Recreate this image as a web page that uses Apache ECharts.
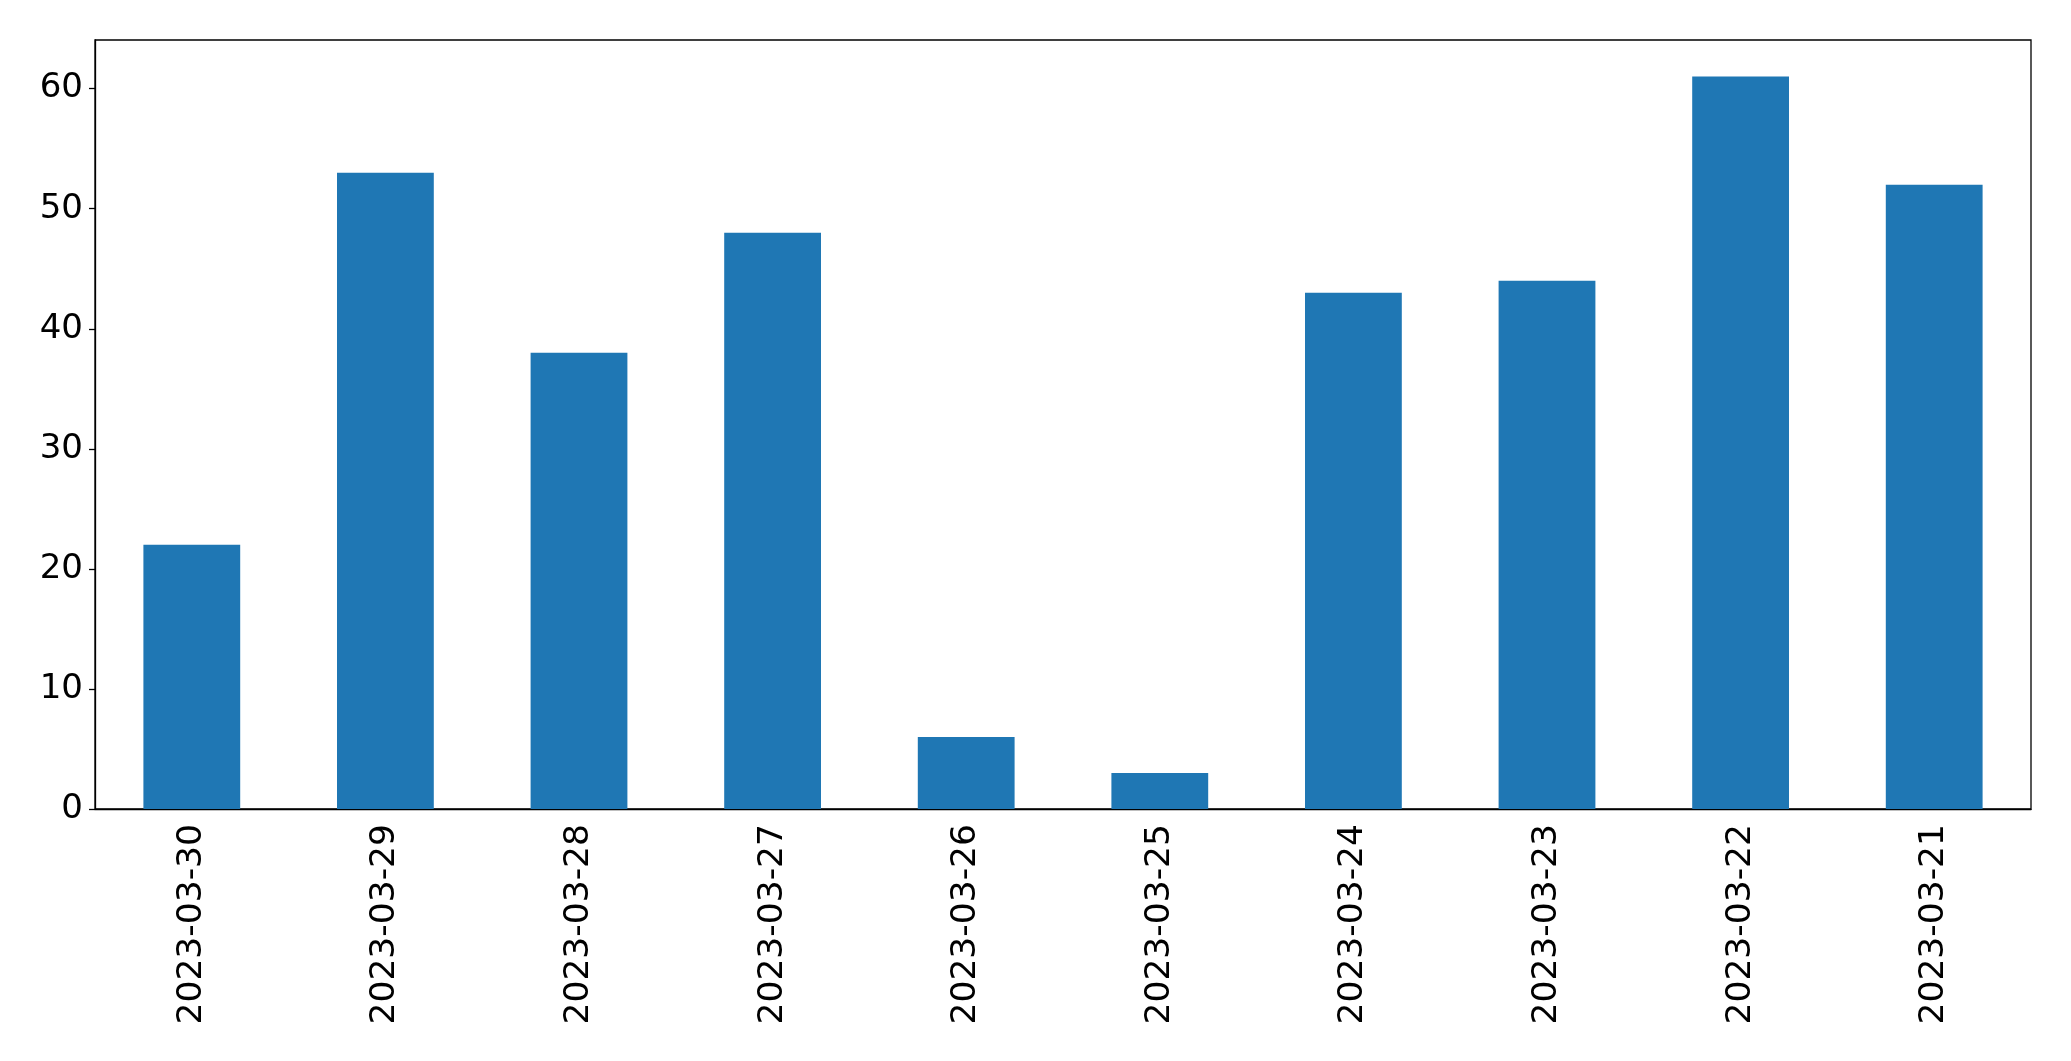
<!DOCTYPE html>
<html>
<head>
<meta charset="utf-8">
<script src="https://cdn.jsdelivr.net/npm/echarts@6/dist/echarts.min.js"></script>
<style>
    html, body { margin: 0; padding: 0; background: #fff; }
    #main { width: 2071px; height: 1061px; }
</style>
</head>
<body>
<div id="main"></div>
<script>
// dates as they appear on the x axis (newest first)
var dates = ['2023-03-30', '2023-03-29', '2023-03-28', '2023-03-27', '2023-03-26',
    '2023-03-25', '2023-03-24', '2023-03-23', '2023-03-22', '2023-03-21'];
var counts = [22, 53, 38, 48, 6, 3, 43, 44, 61, 52];
var yTicks = [0, 10, 20, 30, 40, 50, 60];

var chart = echarts.init(document.getElementById('main'));
var option = {
    animation: false,
    backgroundColor: '#fff',
    textStyle: {
        fontFamily: 'DejaVu Sans'
    },
    grid: {
        left: 95,
        right: 40,
        top: 40,
        bottom: 252,
        containLabel: false,
        show: true,
        borderColor: '#000',
        borderWidth: 1.3
    },
    xAxis: {
        type: 'category',
        data: dates,
        axisLine: {
            lineStyle: { color: '#000', width: 1.3 }
        },
        axisTick: {
            alignWithLabel: true,
            length: 6,
            lineStyle: { color: '#000', width: 1.3 }
        },
        axisLabel: {
            rotate: 90,
            margin: 15,
            fontSize: 34.5,
            color: '#000',
            fontFamily: 'DejaVu Sans'
        },
        splitLine: { show: false }
    },
    yAxis: {
        type: 'value',
        min: 0,
        max: 64.05,
        interval: 10,
        axisLine: {
            show: true,
            lineStyle: { color: '#000', width: 1.3 }
        },
        axisTick: {
            show: true,
            length: 6,
            lineStyle: { color: '#000', width: 1.3 }
        },
        axisLabel: {
            margin: 12,
            fontSize: 34,
            color: '#000',
            fontFamily: 'DejaVu Sans',
            showMaxLabel: false,
            formatter: function (v) {
                return yTicks.indexOf(v) >= 0 ? String(v) : '';
            }
        },
        splitLine: { show: false }
    },
    series: [
        {
            type: 'bar',
            data: counts,
            barWidth: '50%',
            itemStyle: { color: '#1f77b4' }
        }
    ]
};
chart.setOption(option);
</script>
</body>
</html>
